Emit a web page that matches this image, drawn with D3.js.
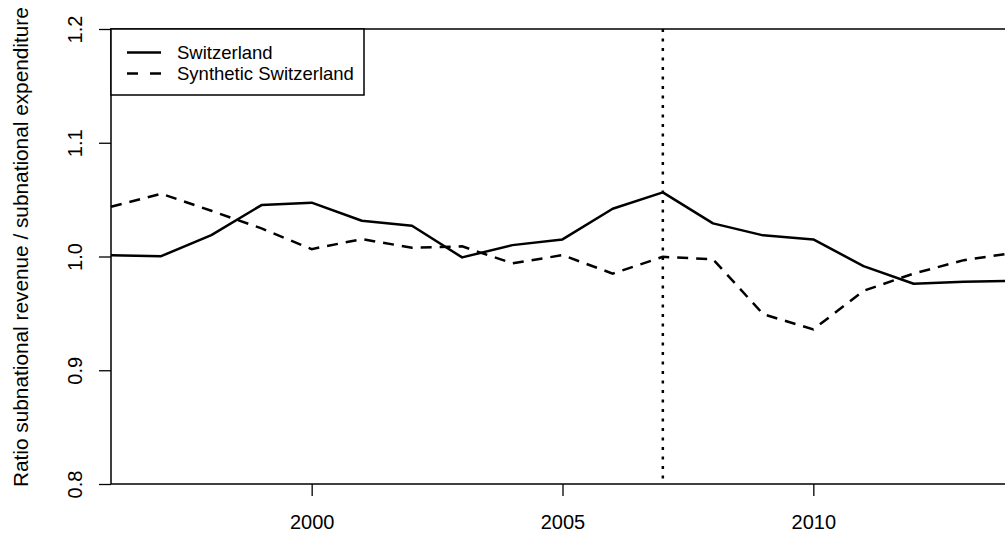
<!DOCTYPE html>
<html>
<head>
<meta charset="utf-8">
<script src="https://cdn.jsdelivr.net/npm/d3@7"></script>
<style>
  body { margin: 0; background: #fff; }
  svg { display: block; font-family: "Liberation Sans", Arial, sans-serif; }
</style>
</head>
<body>
<div id="chart"></div>
<script>
const width = 1005,
  height = 534,
  margin = { top: 29, bottom: 50, left: 111, right: -9 };

// data
const years = [1996, 1997, 1998, 1999, 2000, 2001, 2002, 2003, 2004, 2005,
  2006, 2007, 2008, 2009, 2010, 2011, 2012, 2013, 2014];
const switzerland = [1.001, 1.0003, 1.0188, 1.0452, 1.0473, 1.0314, 1.027, 0.9992, 1.01, 1.015,
  1.042, 1.0564, 1.0291, 1.0186, 1.015, 0.9916, 0.976, 0.9778, 0.9785];
const synthetic = [1.0437, 1.0552, 1.0402, 1.0247, 1.0065, 1.0153, 1.0077, 1.0089, 0.994, 1.0012,
  0.985, 0.9997, 0.9976, 0.9493, 0.9359, 0.9698, 0.985, 0.9968, 1.0032];
const xTicks = [2000, 2005, 2010];
const yTicks = [0.8, 0.9, 1.0, 1.1, 1.2];
const treatmentYear = 2007;
const legendLabels = ["Switzerland", "Synthetic Switzerland"];

const xScale = d3.scaleLinear()
  .domain([1996, 2014])
  .range([margin.left, width - margin.right]);

const yScale = d3.scaleLinear()
  .domain([0.8, 1.2])
  .range([height - margin.bottom, margin.top]);

const svg = d3.select("#chart")
  .append("svg")
  .attr("width", width)
  .attr("height", height);

// x axis
const xAxis = svg.append("g")
  .attr("transform", `translate(0,${height - margin.bottom})`)
  .call(d3.axisBottom(xScale).tickValues(xTicks).tickFormat(d3.format("d"))
    .tickSize(12).tickPadding(19));
xAxis.select(".domain").remove();
xAxis.selectAll("line").attr("stroke", "#000").attr("stroke-width", 1.3);
xAxis.selectAll("text").attr("font-size", 20).attr("fill", "#000")
  .attr("font-family", "Liberation Sans, Arial, sans-serif");

// y axis, R style rotated labels
const yAxis = svg.append("g")
  .attr("transform", `translate(${margin.left},0)`)
  .call(d3.axisLeft(yScale).tickValues(yTicks).tickFormat(d3.format(".1f")).tickSize(12));
yAxis.select(".domain").remove();
yAxis.selectAll("line").attr("stroke", "#000").attr("stroke-width", 1.3);
yAxis.selectAll("text")
  .attr("font-size", 20)
  .attr("fill", "#000")
  .attr("font-family", "Liberation Sans, Arial, sans-serif")
  .attr("transform", "rotate(-90)")
  .attr("x", 0)
  .attr("y", -29)
  .attr("dy", 0)
  .attr("text-anchor", "middle");

svg.append("text")
  .attr("transform", "translate(28,487) rotate(-90)")
  .attr("text-anchor", "start")
  .attr("font-size", 20.8)
  .attr("fill", "#000")
  .text("Ratio subnational revenue / subnational expenditure");

// series
const line = d3.line()
  .x((d, i) => xScale(years[i]))
  .y(d => yScale(d));

svg.append("path")
  .datum(switzerland)
  .attr("d", line)
  .attr("fill", "none")
  .attr("stroke", "#000")
  .attr("stroke-width", 2.5)
  .attr("stroke-linejoin", "round");

svg.append("path")
  .datum(synthetic)
  .attr("d", line)
  .attr("fill", "none")
  .attr("stroke", "#000")
  .attr("stroke-width", 2.5)
  .attr("stroke-dasharray", "11,8");

// treatment year
svg.append("line")
  .attr("x1", xScale(treatmentYear))
  .attr("x2", xScale(treatmentYear))
  .attr("y1", yScale(1.2))
  .attr("y2", yScale(0.8))
  .attr("stroke", "#000")
  .attr("stroke-width", 2.5)
  .attr("stroke-dasharray", "3,6.5");

// plot box
svg.append("rect")
  .attr("x", xScale(1996))
  .attr("y", yScale(1.2))
  .attr("width", xScale(2014) - xScale(1996))
  .attr("height", yScale(0.8) - yScale(1.2))
  .attr("fill", "none")
  .attr("stroke", "#000")
  .attr("stroke-width", 1.5);

// legend
const legend = svg.append("g");
legend.append("rect")
  .attr("x", xScale(1996))
  .attr("y", yScale(1.2))
  .attr("width", 253)
  .attr("height", 66)
  .attr("fill", "#fff")
  .attr("stroke", "#000")
  .attr("stroke-width", 1.5);

const legendItems = legend.selectAll(".item")
  .data(legendLabels)
  .join("g")
  .attr("class", "item")
  .attr("transform", (d, i) => `translate(${xScale(1996)},${52.5 + i * 21})`);

legendItems.append("line")
  .attr("x1", 16)
  .attr("x2", 50)
  .attr("stroke", "#000")
  .attr("stroke-width", 2.5)
  .attr("stroke-dasharray", (d, i) => i === 0 ? null : "11,12");

legendItems.append("text")
  .attr("x", 66)
  .attr("y", 6)
  .attr("font-size", 18.5)
  .attr("fill", "#000")
  .text(d => d);
</script>
</body>
</html>
